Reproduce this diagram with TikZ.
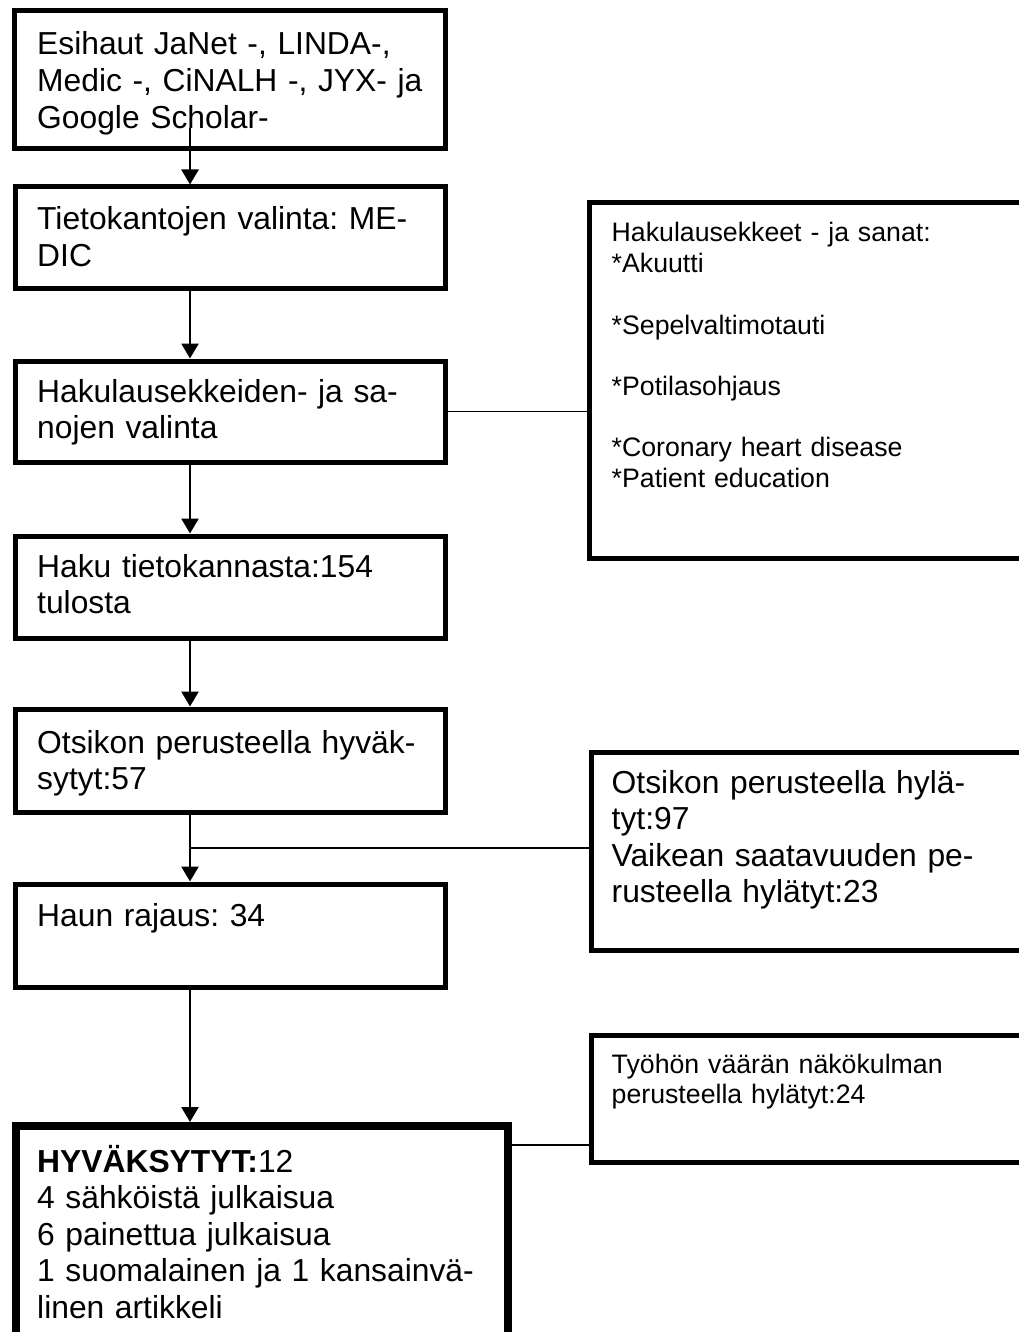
\documentclass[tikz,border=0pt]{standalone}
\usepackage{fontspec}
\setmainfont{Liberation Sans}
\usetikzlibrary{arrows.meta}
\frenchspacing
\begin{document}
\begin{tikzpicture}[x=1pt,y=-1pt,
  box/.style={draw=black,line width=5pt,rectangle,inner sep=0pt,fill=none},
  bigtxt/.style={inner sep=0pt,anchor=base west,text width=600pt,align=left,
    font=\frenchspacing\fontsize{31.8}{36.6}\selectfont},
  smalltxt/.style={inner sep=0pt,anchor=base west,text width=600pt,align=left,
    font=\frenchspacing\fontsize{26.7}{30.7}\selectfont},
  arr/.style={line width=2.5pt,-{Triangle[width=17pt,length=15pt]}},
  thin/.style={line width=1.5pt},
  mid/.style={line width=2.7pt}]
\clip (0,0) rectangle (1019,1332);
\fill[white] (0,0) rectangle (1019,1332);
% left column boxes
\node[box,minimum width=431pt,minimum height=137.5pt] (b1) at (230,79.75) {};
\node[box,minimum width=430pt,minimum height=101pt] (b2) at (230,237.5) {};
\node[box,minimum width=430pt,minimum height=101pt] (b3) at (230,411.5) {};
\node[box,minimum width=430pt,minimum height=102pt] (b4) at (230,587) {};
\node[box,minimum width=430pt,minimum height=103pt] (b5) at (230,760.5) {};
\node[box,minimum width=430pt,minimum height=103pt] (b6) at (230,935.5) {};
\node[box,line width=8pt,minimum width=492pt,minimum height=219pt] (b7) at (262,1235.5) {};
% right column boxes
\node[box,minimum width=441pt,minimum height=355pt] (r1) at (809.5,380.5) {};
\node[box,minimum width=439pt,minimum height=198pt] (r2) at (810.5,851) {};
\node[box,minimum width=439pt,minimum height=127pt] (r3) at (810.5,1098.5) {};
% texts
\node[bigtxt] (t1) at (37,55) {Esihaut JaNet -, LINDA-,\\Medic -, CiNALH -, JYX- ja\\Google Scholar-};
\node[bigtxt] (t2) at (37,230) {Tietokantojen valinta: ME-\\DIC};
\node[bigtxt] (t3) at (37,402) {Hakulausekkeiden- ja sa-\\nojen valinta};
\node[bigtxt] (t4) at (37,577) {Haku tietokannasta:154\\tulosta};
\node[bigtxt] (t5) at (37,753) {Otsikon perusteella hyväk-\\sytyt:57};
\node[bigtxt] (t6) at (37,926) {Haun rajaus: 34};
\node[bigtxt] (t7) at (37,1172) {\textbf{HYVÄKSYTYT:}12\\4 sähköistä julkaisua\\6 painettua julkaisua\\1 suomalainen ja 1 kansainvä-\\linen artikkeli};
\node[smalltxt] (s1) at (611.5,242) {Hakulausekkeet - ja sanat:\\{}*Akuutti\\[30.7pt]{}*Sepelvaltimotauti\\[30.7pt]{}*Potilasohjaus\\[30.7pt]{}*Coronary heart disease\\{}*Patient education};
\node[bigtxt] (s2) at (611.5,793) {Otsikon perusteella hylä-\\tyt:97\\Vaikean saatavuuden pe-\\rusteella hylätyt:23};
\node[smalltxt] (s3) at (611.5,1073) {Työhön väärän näkökulman\\perusteella hylätyt:24};
% connector helpers
\coordinate (ax) at (190,0);
\coordinate (st) at (190,128);
\coordinate (jn) at (190,848);
\coordinate (hb) at (0,1145);
% vertical arrows
\draw[arr] (st) -- (b2.north -| ax);
\draw[arr] (b2.south -| ax) -- (b3.north -| ax);
\draw[arr] (b3.south -| ax) -- (b4.north -| ax);
\draw[arr] (b4.south -| ax) -- (b5.north -| ax);
\draw[arr] (b5.south -| ax) -- (b6.north -| ax);
\draw[arr] (b6.south -| ax) -- (b7.north -| ax);
% side connectors
\draw[thin] (b3.east) -- (b3.east -| r1.west);
\draw[thin] (jn) -- (jn -| r2.west);
\draw[mid] (b7.east |- hb) -- (r3.west |- hb);
\end{tikzpicture}
\end{document}
